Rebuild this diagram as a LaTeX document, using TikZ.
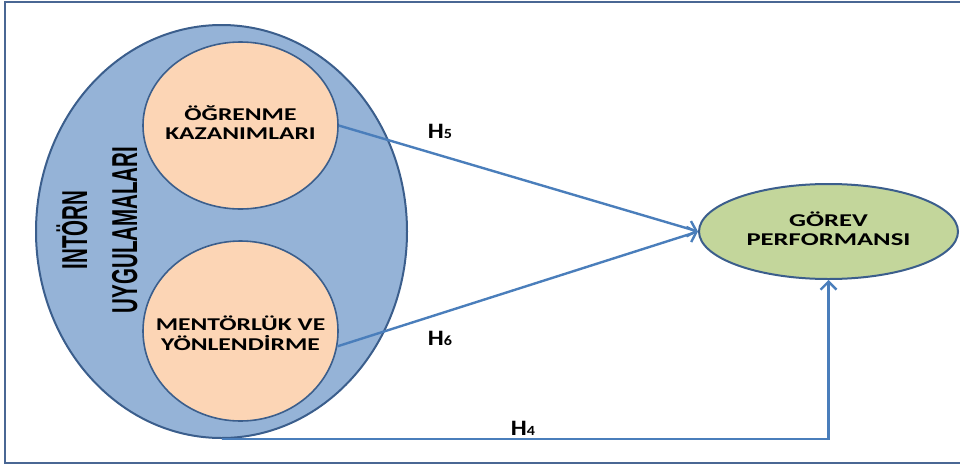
\documentclass[tikz,border=0pt]{standalone}
\usepackage{fontspec}
\setmainfont{Carlito}
\newfontfamily\narrowfont{Liberation Sans}
\usepackage{tikz}
\usetikzlibrary{shapes.geometric,arrows.meta}

\definecolor{framecol}{HTML}{4A6794}
\definecolor{edgecol}{HTML}{3B5E8C}
\definecolor{bluefill}{HTML}{95B3D7}
\definecolor{peachfill}{HTML}{FCD5B5}
\definecolor{greenfill}{HTML}{C3D69B}
\definecolor{arrowcol}{HTML}{4A7EBB}

\begin{document}
\begin{tikzpicture}[
x=1pt, y=-1pt,
outernode/.style={ellipse, draw=edgecol, fill=bluefill, line width=2pt, inner sep=0pt, minimum width=371pt, minimum height=413pt},
innernode/.style={ellipse, draw=edgecol, fill=peachfill, line width=1.6pt, inner sep=0pt, minimum width=195pt},
innertext/.style={font=\fontsize{18}{19}\selectfont\bfseries, inner sep=0pt},
resultnode/.style={ellipse, draw=edgecol, fill=greenfill, line width=2pt, inner sep=0pt, minimum width=259pt, minimum height=95pt},
hyplabel/.style={font=\fontsize{22}{22}\selectfont\bfseries, inner sep=0pt},
link/.style={draw=arrowcol, line width=2.4pt, -{Straight Barb[length=8pt, width=16pt, line width=2.4pt]}},
]
\clip (0,0) rectangle (960,466);
\draw[framecol, line width=2.5pt] (5,2) rectangle (970,463);

%Nodes
\node[outernode]  (intern)  at (221.5,231.5) {};
\node[inner sep=0pt, rotate=90, font=\narrowfont\fontsize{36}{50}\selectfont\bfseries] (internlabel) at (102,230) {\scalebox{0.57}[1]{\begin{tabular}{c} INTÖRN \\ UYGULAMALARI \end{tabular}}};
\node[innernode, minimum height=167pt, label={[innertext]center:\scalebox{1.42}[1]{\begin{tabular}{c} ÖĞRENME \\ KAZANIMLARI \end{tabular}}}] (learn) at (240.5,125.5) {};
\node[innernode, minimum height=180pt, label={[innertext, yshift=-5pt]center:\scalebox{1.42}[1]{\begin{tabular}{c} MENTÖRLÜK VE \\ YÖNLENDİRME \end{tabular}}}] (mentor) at (240.5,331) {};
\node[resultnode, label={[innertext]center:\scalebox{1.48}[1]{\begin{tabular}{c} GÖREV \\ PERFORMANSI \end{tabular}}}] (task) at (828.5,231.5) {};

\node[hyplabel] (h5) at (440,131) {\scalebox{1.15}[1]{H{\fontsize{14}{14}\selectfont 5}}};
\node[hyplabel] (h6) at (440,338) {\scalebox{1.15}[1]{H{\fontsize{14}{14}\selectfont 6}}};
\node[hyplabel] (h4) at (523,428) {\scalebox{1.15}[1]{H{\fontsize{14}{14}\selectfont 4}}};

%Lines
\draw[link] (learn.east) -- (task.west);
\draw[link] (mentor.-9) -- (task.west);
\draw[link] (intern.south) -| (task.south);

\end{tikzpicture}
\end{document}
